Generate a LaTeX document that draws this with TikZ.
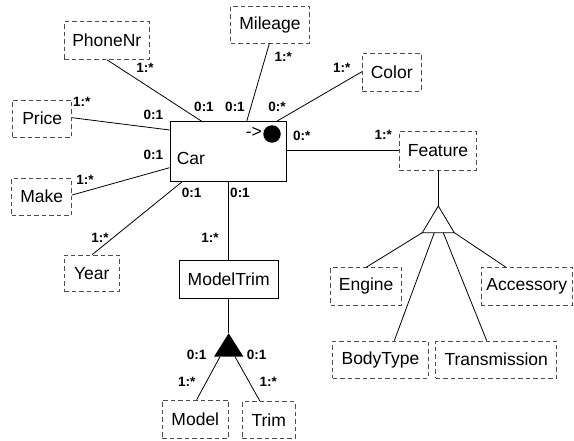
\documentclass[tikz,border=0pt]{standalone}
\usepackage{fontspec}
\setmainfont{Liberation Sans}
\newcommand\namefont{\fontsize{17.5}{20}\selectfont}
\newcommand\cardfont{\bfseries\fontsize{13.5}{15}\selectfont}
\begin{document}
\begin{tikzpicture}[x=1pt,y=-1pt,
  box/.style={draw=black, line width=0.8pt, inner sep=0pt, font=\namefont},
  attr/.style={draw=black!70, line width=0.8pt, dash pattern=on 4.5pt off 3pt, inner sep=0pt, font=\namefont},
  conn/.style={draw=black, line width=0.8pt},
  card/.style={inner sep=0pt, font=\cardfont}]
\useasboundingbox (0,0) rectangle (574,441);
% attribute boxes
\node[attr, minimum width=85pt, minimum height=37.6pt] (phone) at (106.8,40.5) {PhoneNr};
\node[attr, minimum width=78.6pt, minimum height=37.3pt] (mileage) at (270,24.7) {Mileage};
\node[attr, minimum width=59pt, minimum height=37.3pt] (price) at (42.2,118.7) {Price};
\node[attr, minimum width=60pt, minimum height=36.7pt] (make) at (41.7,196.7) {Make};
\node[attr, minimum width=54.7pt, minimum height=36.7pt] (year) at (91.7,273.3) {Year};
\node[attr, minimum width=58.7pt, minimum height=37.7pt] (color) at (391.7,72.2) {Color};
\node[attr, minimum width=77.4pt, minimum height=38.3pt] (feature) at (438,150.8) {Feature};
\node[attr, minimum width=66pt, minimum height=38.3pt] (model) at (195.3,419.2) {Model};
\node[attr, minimum width=52.7pt, minimum height=36.6pt] (trim) at (268.7,420) {Trim};
\node[attr, minimum width=71pt, minimum height=37.3pt] (engine) at (366.2,286.3) {Engine};
\node[attr, minimum width=91.7pt, minimum height=37.3pt] (access) at (526.8,286.3) {Accessory};
\node[attr, minimum width=95.6pt, minimum height=37.3pt] (body) at (380.5,359.7) {BodyType};
\node[attr, minimum width=121pt, minimum height=37.3pt] (trans) at (496.2,359.7) {Transmission};
% entity boxes
\node[box, minimum width=116pt, minimum height=60pt] (car) at (228,151.7) {};
\node[font=\namefont, anchor=west, inner sep=0pt] (cartxt) at ([xshift=7pt,yshift=-6.5pt]car.west) {Car};
\node[font=\namefont, inner sep=0pt] (arrow) at (253.8,132.5) {->};
\node[circle, fill=black, minimum size=17.5pt, inner sep=0pt] (dot) at (272,134) {};
\node[box, minimum width=99.3pt, minimum height=38.3pt] (mt) at (228.7,279.2) {ModelTrim};
% triangles
\coordinate (ta) at (228.7,333.3);
\coordinate (tl) at (214,356.7);
\coordinate (tr) at (243.4,356.7);
\fill[black] (ta) -- (tl) -- (tr) -- cycle;
\coordinate (ha) at (438.3,206);
\coordinate (hl) at (422.3,232.7);
\coordinate (hr) at (454.3,232.7);
\draw[conn, line join=miter] (ha) -- (hl) -- (hr) -- cycle;
% connectors
\draw[conn] (phone.south) -- ([xshift=-26.3pt]car.north);
\draw[conn] ([xshift=-0.7pt]mileage.south) -- ([xshift=18.7pt]car.north);
\draw[conn] ([yshift=0.5pt]color.west) -- ([xshift=48.7pt]car.north);
\draw[conn] ([yshift=1pt]price.east) -- ([yshift=21.7pt]car.west);
\draw[conn] ([yshift=1.7pt]make.east) -- ([yshift=-16pt]car.west);
\draw[conn] ([xshift=0.6pt]year.north) -- ([xshift=-46.3pt]car.north |- car.south);
\draw[conn] (car.south) -- (car.south |- mt.north);
\draw[conn] (feature.west) -- (feature.west -| car.east);
\draw[conn] (mt.south -| ta) -- (ta);
\draw[conn] ([xshift=6pt]tl) -- ([xshift=1.4pt]model.north);
\draw[conn] ([xshift=-8.4pt]tr) -- ([xshift=-8.7pt]trim.north);
\draw[conn] (feature.south -| ha) -- (ha);
\draw[conn] (hl) -- (engine.north);
\draw[conn] ([xshift=12pt]hl) -- ([xshift=13.8pt]body.north);
\draw[conn] ([xshift=-11pt]hr) -- ([xshift=-9.5pt]trans.north);
\draw[conn] (hr) -- ([xshift=-20.8pt]access.north);
% cardinalities
\node[card] (c1) at (145,68.3) {1:*};
\node[card] (c2) at (204,106.7) {0:1};
\node[card] (c3) at (235,106.7) {0:1};
\node[card] (c4) at (283.3,56.7) {1:*};
\node[card] (c5) at (277,107) {0:*};
\node[card] (c6) at (341.7,68.3) {1:*};
\node[card] (c7) at (301.7,136) {0:*};
\node[card] (c8) at (383.3,135) {1:*};
\node[card] (c9) at (81.7,101.7) {1:*};
\node[card] (c10) at (153.3,115) {0:1};
\node[card] (c11) at (153.3,155) {0:1};
\node[card] (c12) at (85,180) {1:*};
\node[card] (c13) at (191.7,193.3) {0:1};
\node[card] (c14) at (240,193.3) {0:1};
\node[card] (c15) at (100,238.3) {1:*};
\node[card] (c16) at (210,238.3) {1:*};
\node[card] (c17) at (196.7,355) {0:1};
\node[card] (c18) at (256.7,355) {0:1};
\node[card] (c19) at (186.7,381.7) {1:*};
\node[card] (c20) at (268.3,381.7) {1:*};
\end{tikzpicture}
\end{document}
